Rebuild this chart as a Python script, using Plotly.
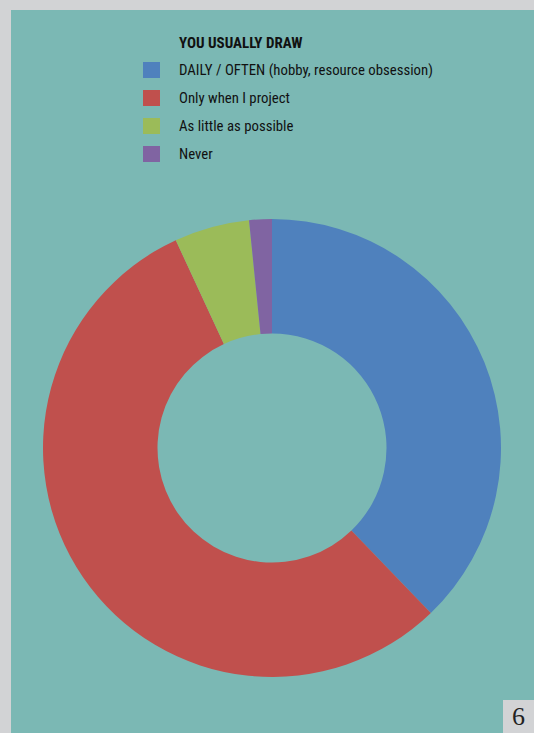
import plotly.graph_objects as go

labels = ["DAILY / OFTEN (hobby, resource obsession)", "Only when I project", "As little as possible", "Never"]
values = [37.8, 55.3, 5.3, 1.6]
colors = ["#4F81BD", "#C0504D", "#9BBB59", "#8064A2"]
legend_title = "YOU USUALLY DRAW"
page_number = "6"

W, H = 534, 733
TEAL = "#7BB8B4"
GREY = "#D2D3D5"
FONT = "Roboto Condensed, Liberation Sans Narrow, Arial Narrow, Liberation Sans, sans-serif"

def px(x):
    return x / W

def py(y):
    return 1 - y / H

fig = go.Figure()
fig.add_trace(go.Pie(
    labels=labels, values=values, hole=0.5, sort=False, direction="clockwise",
    rotation=0, marker=dict(colors=colors, line=dict(width=0)),
    textinfo="none", hoverinfo="label+percent", showlegend=False,
    domain=dict(x=[px(43), px(501)], y=[py(677), py(219)]),
))

shapes = [
    dict(type="rect", xref="paper", yref="paper", x0=px(11), x1=1, y0=0, y1=py(10),
         fillcolor=TEAL, line=dict(width=0), layer="below"),
    dict(type="rect", xref="paper", yref="paper", x0=px(503), x1=1, y0=0, y1=py(700),
         fillcolor=GREY, line=dict(width=0), layer="below"),
]
annotations = [
    dict(text="<b>" + legend_title + "</b>", x=px(177), y=py(43), xref="paper", yref="paper",
         xanchor="left", yanchor="middle", showarrow=False, font=dict(family=FONT, size=15, color="#111")),
    dict(text=page_number, x=px(518), y=py(716), xref="paper", yref="paper",
         xanchor="center", yanchor="middle", showarrow=False,
         font=dict(family="Liberation Serif, DejaVu Serif, serif", size=26, color="#222")),
]
row0, step = 70, 28
for i, (lab, col) in enumerate(zip(labels, colors)):
    yc = row0 + i * step
    shapes.append(dict(type="rect", xref="paper", yref="paper", x0=px(143), x1=px(160),
                       y0=py(yc + 8), y1=py(yc - 8), fillcolor=col, line=dict(width=0)))
    annotations.append(dict(text=lab, x=px(177), y=py(yc), xref="paper", yref="paper",
                            xanchor="left", yanchor="middle", showarrow=False,
                            font=dict(family=FONT, size=14.8, color="#111")))

fig.update_layout(
    width=W, height=H, margin=dict(l=0, r=0, t=0, b=0),
    paper_bgcolor=GREY, plot_bgcolor=GREY,
    shapes=shapes, annotations=annotations, showlegend=False,
)
fig.write_html("out.html")
